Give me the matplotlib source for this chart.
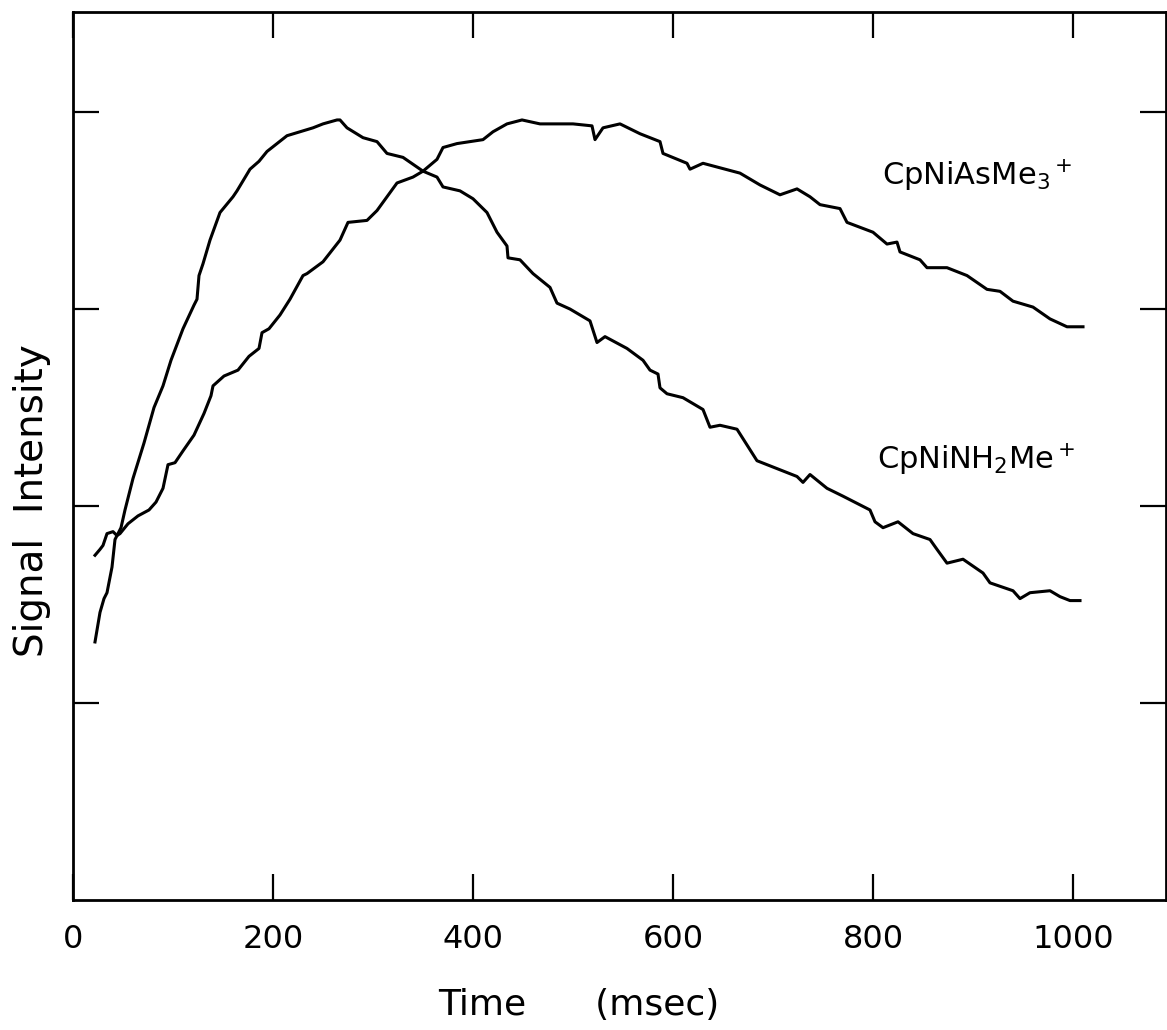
import matplotlib
matplotlib.use("Agg")
import matplotlib.pyplot as plt

# Time axis in msec, signal in arbitrary units (left ticks at 1..4)
nh2me_time = [22, 27, 31, 34, 39, 42, 45, 48, 52, 60, 71, 81, 90, 98, 110, 121, 124, 126,
              130, 137, 147, 160, 164, 177, 186, 194, 204, 214, 227, 240, 250, 264, 267, 274,
              290, 304, 314, 330, 350, 364, 370, 387, 400, 414, 424, 434, 435, 447, 460, 477,
              484, 497, 517, 524, 532, 554, 570, 577, 585, 587, 594, 610, 630, 637, 647, 664,
              684, 704, 724, 730, 737, 754, 770, 797, 802, 810, 825, 840, 857, 864, 874, 890,
              910, 917, 940, 947, 957, 977, 987, 997, 1007]
nh2me_signal = [1.31, 1.46, 1.53, 1.56, 1.69, 1.83, 1.86, 1.89, 1.98, 2.14, 2.32, 2.50, 2.61,
                2.74, 2.90, 3.02, 3.05, 3.17, 3.23, 3.35, 3.49, 3.57, 3.60, 3.71, 3.75, 3.80,
                3.84, 3.88, 3.90, 3.92, 3.94, 3.96, 3.96, 3.92, 3.87, 3.85, 3.79, 3.77, 3.70,
                3.67, 3.62, 3.60, 3.56, 3.49, 3.39, 3.32, 3.26, 3.25, 3.18, 3.11, 3.03, 3.00,
                2.94, 2.83, 2.86, 2.80, 2.74, 2.69, 2.67, 2.60, 2.57, 2.55, 2.49, 2.40, 2.41,
                2.39, 2.23, 2.19, 2.15, 2.12, 2.16, 2.09, 2.05, 1.98, 1.92, 1.89, 1.92, 1.86,
                1.83, 1.78, 1.71, 1.73, 1.66, 1.61, 1.57, 1.53, 1.56, 1.57, 1.54, 1.52, 1.52]

asme3_time = [22, 27, 30, 34, 40, 44, 47, 55, 65, 76, 83, 90, 95, 102, 110, 121, 131, 138, 140,
              151, 165, 176, 186, 189, 196, 207, 217, 230, 234, 250, 267, 275, 294, 304, 324,
              340, 350, 364, 370, 384, 410, 420, 434, 449, 467, 500, 519, 522, 530, 547, 567,
              587, 590, 614, 617, 630, 667, 687, 707, 724, 737, 747, 767, 774, 800, 814, 824,
              827, 847, 854, 874, 894, 914, 927, 940, 960, 977, 994, 1010]
asme3_signal = [1.75, 1.78, 1.80, 1.86, 1.87, 1.85, 1.86, 1.91, 1.95, 1.98, 2.02, 2.09, 2.21,
                2.22, 2.28, 2.36, 2.47, 2.56, 2.61, 2.66, 2.69, 2.76, 2.80, 2.88, 2.90, 2.97,
                3.05, 3.17, 3.18, 3.24, 3.35, 3.44, 3.45, 3.50, 3.64, 3.67, 3.70, 3.76, 3.82,
                3.84, 3.86, 3.90, 3.94, 3.96, 3.94, 3.94, 3.93, 3.86, 3.92, 3.94, 3.89, 3.85,
                3.79, 3.74, 3.71, 3.74, 3.69, 3.63, 3.58, 3.61, 3.57, 3.53, 3.51, 3.44, 3.39,
                3.33, 3.34, 3.29, 3.25, 3.21, 3.21, 3.17, 3.10, 3.09, 3.04, 3.01, 2.95, 2.91,
                2.91]

x_ticks = [0, 200, 400, 600, 800, 1000]
x_tick_labels = ["0", "200", "400", "600", "800", "1000"]
y_ticks = [1, 2, 3, 4]

fig = plt.figure(figsize=(11.67, 10.30), dpi=100)
ax = fig.add_axes([73 / 1167, 130 / 1030, 1093 / 1167, 888 / 1030])

ax.plot(nh2me_time, nh2me_signal, color="black", linewidth=2.2)
ax.plot(asme3_time, asme3_signal, color="black", linewidth=2.2)

ax.set_xlim(0, 1093)
ax.set_ylim(0, 4.508)

ax.set_xticks(x_ticks)
ax.set_xticklabels(x_tick_labels, fontsize=23)
ax.set_yticks(y_ticks)
ax.set_yticklabels([])
ax.tick_params(direction="in", length=19, width=1.6, top=True, right=True, pad=17)

for s in ax.spines.values():
    s.set_linewidth(2.0)

ax.set_xlabel("Time      (msec)", fontsize=26, va="center")
ax.xaxis.set_label_coords(0.463, -0.118)
ax.set_ylabel("Signal  Intensity", fontsize=28, va="center")
ax.yaxis.set_label_coords(-0.0375, 0.45)

ax.text(809, 3.63, r"CpNiAsMe$_3$$^+$", fontsize=22, ha="left", va="baseline")
ax.text(804, 2.19, r"CpNiNH$_2$Me$^+$", fontsize=22, ha="left", va="baseline")

fig.savefig("out.png", dpi=100)
